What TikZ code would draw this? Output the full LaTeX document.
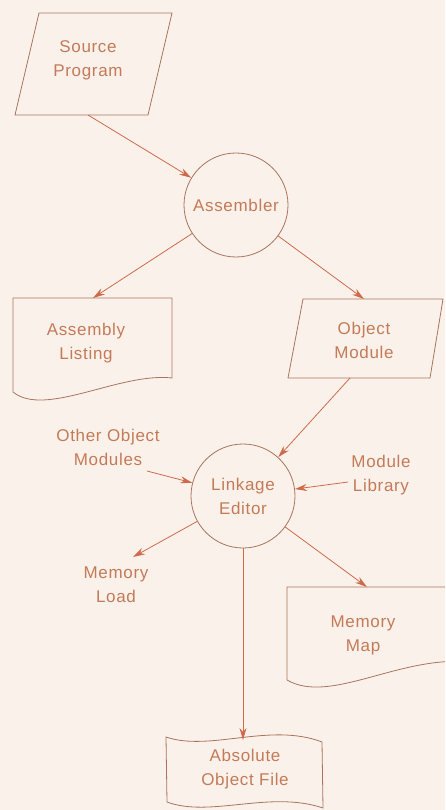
\documentclass[tikz,border=0pt]{standalone}
\usepackage{fontspec}
\setmainfont{Liberation Sans}[LetterSpace=4]
\usetikzlibrary{arrows.meta}
\definecolor{paper}{HTML}{FAF2EA}
\definecolor{ink}{HTML}{A9735E}
\definecolor{txt}{HTML}{C47A58}
\definecolor{arr}{HTML}{D0694A}
\begin{document}
\begin{tikzpicture}[x=1pt,y=-1pt,
    lbl/.style={text=txt,align=center,font=\fontsize{17}{24}\selectfont},
    proc/.style={circle,draw=ink,line width=.8pt,minimum size=104pt,inner sep=0pt},
    flow/.style={draw=arr,line width=.8pt,-{Stealth[length=12pt,width=7pt]}},
    outline/.style={draw=ink,line width=.8pt}]
  \useasboundingbox (0,0) rectangle (445,810);
  \clip (0,0) rectangle (445,810);
  \fill[paper] (0,0) rectangle (445,810);
  % input and assembler
  \draw[outline] (39,13) -- (172,13) -- (148,115) -- (15,115) -- cycle;
  \node[lbl] (src) at (88,60) {Source\\Program};
  \coordinate (srcb) at (88,115);
  \node[proc,lbl] (asm) at (236,205) {Assembler};
  % assembler output
  \draw[outline] (13,298) -- (172,298) -- (172,378)
    .. controls (120,372) and (45,418) .. (13,392) -- cycle;
  \node[lbl] (lst) at (86,343) {Assembly\\Listing};
  \coordinate (lstt) at (93,298);
  \draw[outline] (303,299) -- (443,299) -- (430,378) -- (288,378) -- cycle;
  \node[lbl] (obj) at (364,340) {Object\\Module};
  \coordinate (objt) at (364,299);
  \coordinate (objb) at (350,378);
  % linkage editor
  \node[proc,lbl] (lnk) at (243,496) {Linkage\\Editor};
  \node[lbl] (oom) at (108,447) {Other Object\\Modules};
  \coordinate (oomx) at (147,471);
  \node[lbl] (mlib) at (381,475) {Module\\Library};
  \coordinate (mlibx) at (348,482);
  \node[lbl] (mld) at (116,585) {Memory\\Load};
  \coordinate (mldt) at (133,557);
  % memory map and object file
  \draw[outline] (470,587) -- (287,587) -- (287,680)
    .. controls (330,705) and (400,655) .. (470,662);
  \node[lbl] (mmap) at (363,635) {Memory\\Map};
  \coordinate (mmapt) at (367,587);
  \draw[outline] (166,737) .. controls (210,752) and (270,722) .. (322,742)
    -- (323,808) .. controls (270,790) and (210,818) .. (167,802) -- cycle;
  \node[lbl] (abs) at (245,769) {Absolute\\Object File};
  \coordinate (abst) at (243,740);
  % flow lines
  \draw[flow] (srcb) -- (asm);
  \draw[flow] (asm) -- (lstt);
  \draw[flow] (asm) -- (objt);
  \draw[flow] (objb) -- (lnk);
  \draw[flow] (oomx) -- (lnk);
  \draw[flow] (mlibx) -- (lnk);
  \draw[flow] (lnk) -- (mldt);
  \draw[flow] (lnk) -- (mmapt);
  \draw[flow] (lnk) -- (abst);
\end{tikzpicture}
\end{document}
